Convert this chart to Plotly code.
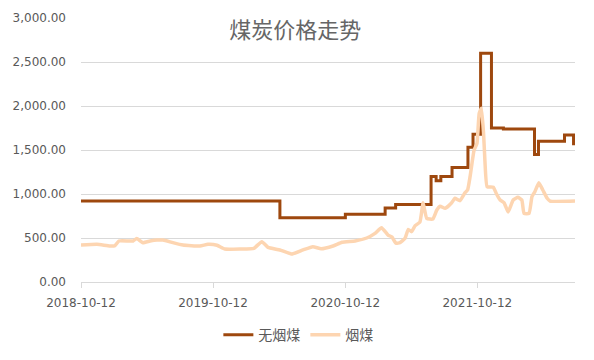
import plotly.graph_objects as go

title_text = "煤炭价格走势"
series_names = ["无烟煤", "烟煤"]

# 无烟煤 (step series) : change dates and values
anthracite_dates = [
    "2018-10-12", "2020-04-14", "2020-10-12", "2021-01-30", "2021-02-28",
    "2021-06-06", "2021-06-20", "2021-07-03", "2021-08-03", "2021-09-16",
    "2021-09-30", "2021-10-21", "2021-11-20", "2021-12-23", "2022-03-19",
    "2022-03-30", "2022-06-10", "2022-07-05", "2022-07-09",
]
anthracite_values = [
    920, 730, 770, 840, 880,
    1200, 1150, 1200, 1300, 1530,
    1680, 2600, 1750, 1740, 1450,
    1600, 1670, 1570, 1570,
]

# 烟煤
bituminous_dates = [
    "2018-10-12", "2018-11-25", "2018-12-31", "2019-01-14", "2019-01-25",
    "2019-03-05", "2019-03-15", "2019-04-01", "2019-04-21", "2019-05-10",
    "2019-05-27", "2019-06-23", "2019-07-21", "2019-09-06", "2019-09-28",
    "2019-10-23", "2019-11-14", "2019-12-26", "2020-02-02", "2020-02-24",
    "2020-03-12", "2020-04-14", "2020-05-17", "2020-06-17", "2020-07-14",
    "2020-08-06", "2020-09-08", "2020-10-03", "2020-11-08", "2020-12-10",
    "2021-01-02", "2021-01-20", "2021-02-07", "2021-02-18", "2021-03-01",
    "2021-03-12", "2021-03-26", "2021-04-04", "2021-04-13", "2021-04-23",
    "2021-05-06", "2021-05-15", "2021-05-25", "2021-06-11", "2021-06-22",
    "2021-07-01", "2021-07-15", "2021-08-02", "2021-08-11", "2021-08-25",
    "2021-09-08", "2021-09-15", "2021-09-22", "2021-10-03", "2021-10-11",
    "2021-10-17", "2021-10-23", "2021-10-29", "2021-11-02", "2021-11-08",
    "2021-11-25", "2021-12-04", "2021-12-14", "2021-12-25", "2022-01-05",
    "2022-01-19", "2022-02-01", "2022-02-12", "2022-02-18", "2022-03-04",
    "2022-03-12", "2022-03-20", "2022-03-31", "2022-04-11", "2022-04-23",
    "2022-05-01", "2022-07-09",
]
bituminous_values = [
    420, 428, 409, 413, 466,
    466, 495, 447, 466, 477,
    477, 447, 420, 409, 428,
    417, 375, 375, 383, 458,
    394, 364, 318, 364, 401,
    378, 409, 451, 466, 500,
    553, 617, 534, 510, 440,
    447, 497, 598, 572, 640,
    680, 900, 723, 715, 818,
    860, 837, 900, 951, 924,
    1015, 1045, 1200, 1500, 1576,
    1917, 1974, 1700, 1370, 1083,
    1076, 1000, 932, 900, 795,
    932, 962, 932, 780, 780,
    970, 1026, 1128, 1045, 951,
    920, 920,
]

x_tickvals = ["2018-10-12", "2019-10-12", "2020-10-12", "2021-10-12"]
x_range = ["2018-10-12", "2022-07-09"]
y_tickvals = [0, 500, 1000, 1500, 2000, 2500, 3000]

fig = go.Figure()
fig.add_trace(go.Scatter(
    x=anthracite_dates, y=anthracite_values, name=series_names[0],
    mode="lines", line=dict(color="#9E480E", width=3, shape="hv"),
))
fig.add_trace(go.Scatter(
    x=bituminous_dates, y=bituminous_values, name=series_names[1],
    mode="lines", line=dict(color="#FDD5B1", width=3.5, shape="spline", smoothing=0.4),
))

fig.update_layout(
    width=594, height=360,
    margin=dict(l=81, r=19, t=18, b=78, autoexpand=False),
    paper_bgcolor="white", plot_bgcolor="white",
    font=dict(family="DejaVu Sans, Noto Sans CJK SC", color="#595959", size=11),
    title=dict(
        text=title_text, x=0.497, xanchor="center", y=0.917, yanchor="middle",
        yref="container",
        font=dict(family="Noto Sans CJK SC", size=22, color="#666666"),
    ),
    showlegend=True,
    legend=dict(
        orientation="h", x=0.44, xanchor="center",
        yref="container", y=0.069, yanchor="middle",
        font=dict(family="Noto Sans CJK SC", size=14, color="#595959"),
        itemwidth=30,
    ),
    xaxis=dict(
        type="date", range=x_range, tickvals=x_tickvals, ticktext=x_tickvals,
        showgrid=False, showline=True, linecolor="#D9D9D9", linewidth=1,
        ticks="outside", ticklen=5, tickcolor="#D9D9D9",
        ticklabelstandoff=5, automargin=False,
        tickfont=dict(size=12, color="#595959"),
        zeroline=False,
    ),
    yaxis=dict(
        range=[0, 3000], tickvals=y_tickvals, tickformat=",.2f",
        showgrid=True, gridcolor="#D9D9D9", gridwidth=1,
        zeroline=False, showline=False, ticks="",
        ticklabelstandoff=14, automargin=False,
        tickfont=dict(size=12, color="#595959"),
    ),
)

fig.write_html("out.html")
